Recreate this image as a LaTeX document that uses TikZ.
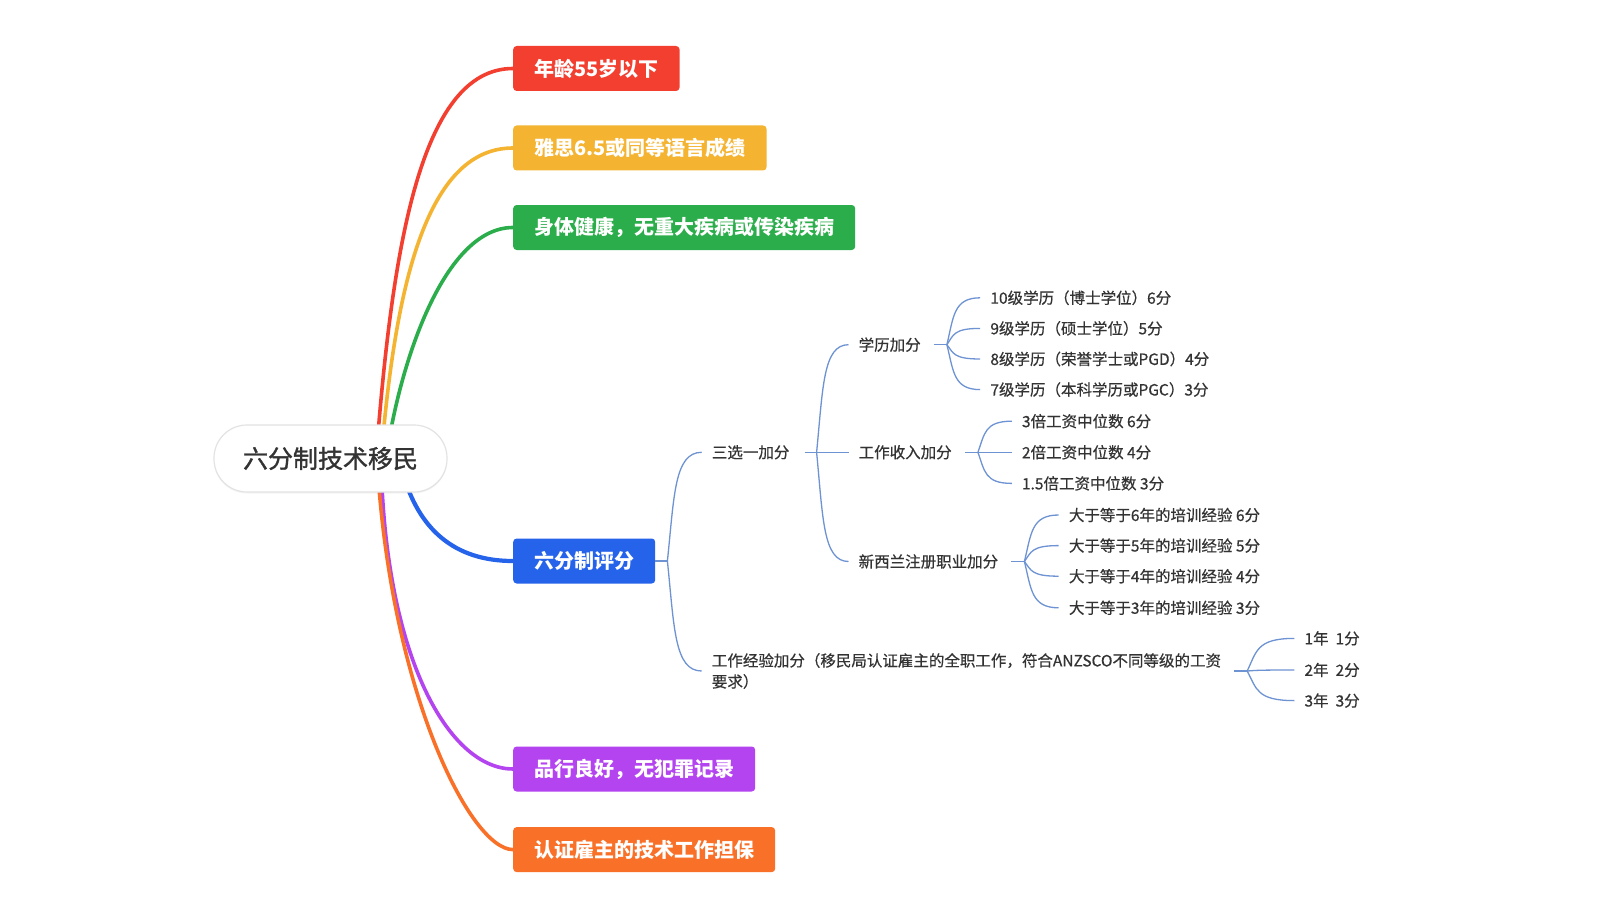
\documentclass[tikz,border=0pt]{standalone}
\usepackage{fontspec}
\setmainfont{Noto Sans CJK SC}
\newfontfamily\rootfont{Noto Sans CJK SC}[FakeBold=1.3]
\newfontfamily\lblfont{Noto Sans CJK SC}[FakeBold=0.5]
\usetikzlibrary{calc,backgrounds,shadows}
\definecolor{cred}{HTML}{F23F30}
\definecolor{cyellow}{HTML}{F4B431}
\definecolor{cgreen}{HTML}{2AAD4A}
\definecolor{cblue}{HTML}{2563EB}
\definecolor{cpurple}{HTML}{B443F0}
\definecolor{corange}{HTML}{F97129}
\definecolor{clink}{HTML}{6E93D3}
\definecolor{ctext}{HTML}{333333}
\definecolor{cborder}{HTML}{E3E3E3}
\newcommand\brch[2]{%
  \draw[sub] let \p1=(#1), \p2=($(#2.west)+(-10,0)$) in
    (\p1) .. controls ({\x1+0.2*(\x2-\x1)},{\y1+0.6*(\y2-\y1)}) and ({\x1+0.2*(\x2-\x1)},\y2) .. (\p2);}
\begin{document}
\begin{tikzpicture}[x=1pt,y=-1pt,
  box/.style={anchor=west, minimum height=45pt, inner xsep=21pt, inner ysep=0pt,
    rounded corners=3.5pt, text=white, font=\fontsize{20}{24}\selectfont\bfseries},
  main/.style={line width=3.6pt, line cap=round},
  sub/.style={line width=1.3pt, draw=clink},
  lbl/.style={anchor=west, inner sep=0pt, text=ctext, font=\lblfont\fontsize{15.5}{21}\selectfont},
]
\useasboundingbox (0,0) rectangle (1599,915);

% root
\node[draw=cborder, line width=1.2pt, fill=white, rounded corners=33pt,
  minimum width=233pt, minimum height=67pt, inner sep=0pt,
  drop shadow={shadow xshift=0pt, shadow yshift=-1.5pt, opacity=0.08},
  font=\rootfont\fontsize{25}{30}\selectfont, text=ctext] (root) at (330.5,458.5) {六分制技术移民};

% first level boxes
\node[box, fill=cred]    (age)   at (513,68.5)  {年龄55岁以下};
\node[box, fill=cyellow] (lang)  at (513,148)   {雅思6.5或同等语言成绩};
\node[box, fill=cgreen]  (health) at (513,227.5) {身体健康，无重大疾病或传染疾病};
\node[box, fill=cblue]   (score) at (513,561)   {六分制评分};
\node[box, fill=cpurple] (char)  at (513,769)   {品行良好，无犯罪记录};
\node[box, fill=corange] (job)   at (513,849.6) {认证雇主的技术工作担保};

% hidden start points of the main curves (under the root)
\coordinate (sR) at (376,459);
\coordinate (sY) at (381,459);
\coordinate (sG) at (386,459);
\coordinate (sB) at (402,470);
\coordinate (sP) at (381,459);
\coordinate (sO) at (377,459);

\begin{scope}[on background layer]
\fill[white] (0,0) rectangle (1599,915);
\draw[main, draw=cred]    (sR) .. controls (392,250) and (420,68.5) .. (age.west);
\draw[main, draw=cyellow] (sY) .. controls (395,290) and (425,148) .. (lang.west);
\draw[main, draw=cgreen]  (sG) .. controls (400,360) and (445,227.5) .. (health.west);
\draw[main, draw=cblue, line width=4.2pt] (sB) .. controls (418,530) and (455,561) .. (score.west);
\draw[main, draw=cpurple] (sP) .. controls (385,660) and (450,769) .. (char.west);
\draw[main, draw=corange] (sO) .. controls (390,690) and (470,849.6) .. (job.west);
\end{scope}

% second level
\coordinate (j1) at ($(score.east)+(12,0)$);
\draw[sub] (score.east) -- (j1);
\node[lbl] (pick) at (711.7,452.3) {三选一加分};
\node[lbl, align=left] (exp) at (711.7,671) {工作经验加分（移民局认证雇主的全职工作，符合ANZSCO不同等级的工资\\要求）};
\brch{j1}{pick}
\brch{j1}{exp}

% third level
\coordinate (j2) at ($(pick.east)+(27,0)$);
\draw[sub, shorten <=15pt] (pick.east) -- (j2);
\node[lbl] (edu) at (858.5,344.7) {学历加分};
\node[lbl] (inc) at (858.5,452.3) {工作收入加分};
\node[lbl] (reg) at (858.5,561.5) {新西兰注册职业加分};
\brch{j2}{edu}
\brch{j2}{inc}
\brch{j2}{reg}

% education items
\coordinate (j3) at ($(edu.east)+(26,0)$);
\draw[sub, shorten <=13pt] (edu.east) -- (j3);
\node[lbl] (e10) at (990.2,297.8) {10级学历（博士学位）6分};
\node[lbl] (e9)  at (990.2,328.4) {9级学历（硕士学位）5分};
\node[lbl] (e8)  at (990.2,359.0) {8级学历（荣誉学士或PGD）4分};
\node[lbl] (e7)  at (990.2,389.6) {7级学历（本科学历或PGC）3分};
\brch{j3}{e10}
\brch{j3}{e9}
\brch{j3}{e8}
\brch{j3}{e7}

% income items
\coordinate (j4) at ($(inc.east)+(26,0)$);
\draw[sub, shorten <=13pt] (inc.east) -- (j4);
\node[lbl] (i3) at (1021.8,421.2) {3倍工资中位数 6分};
\node[lbl] (i2) at (1021.8,452.3) {2倍工资中位数 4分};
\node[lbl] (i1) at (1021.8,483.4) {1.5倍工资中位数 3分};
\brch{j4}{i3}
\brch{j4}{i2}
\brch{j4}{i1}

% registration items
\coordinate (j5) at ($(reg.east)+(26,0)$);
\draw[sub, shorten <=13pt] (reg.east) -- (j5);
\node[lbl] (r6) at (1068.7,515.0) {大于等于6年的培训经验 6分};
\node[lbl] (r5) at (1068.7,545.6) {大于等于5年的培训经验 5分};
\node[lbl] (r4) at (1068.7,576.2) {大于等于4年的培训经验 4分};
\node[lbl] (r3) at (1068.7,607.8) {大于等于3年的培训经验 3分};
\brch{j5}{r6}
\brch{j5}{r5}
\brch{j5}{r4}
\brch{j5}{r3}

% work experience items
\coordinate (j6) at ($(exp.east)+(26,0)$);
\draw[sub, shorten <=13pt] (exp.east) -- (j6);
\node[lbl] (w1) at (1304.3,638.4) {1年\hspace{7pt}1分};
\node[lbl] (w2) at (1304.3,670.0) {2年\hspace{7pt}2分};
\node[lbl] (w3) at (1304.3,700.6) {3年\hspace{7pt}3分};
\brch{j6}{w1}
\brch{j6}{w2}
\brch{j6}{w3}
\end{tikzpicture}
\end{document}
